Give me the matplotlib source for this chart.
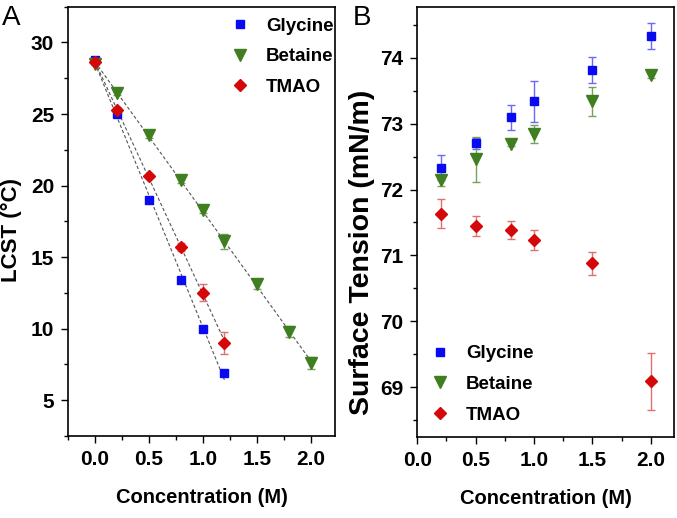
import numpy as np
import matplotlib
matplotlib.use("Agg")
import matplotlib.pyplot as plt
from matplotlib.ticker import MultipleLocator

plt.rcParams['font.family'] = ['Liberation Sans', 'DejaVu Sans']
plt.rcParams['font.weight'] = 'bold'

# Panel A: LCST vs concentration
gly_x_a = [0.0, 0.2, 0.5, 0.8, 1.0, 1.2]
gly_y_a = [28.8, 25.0, 19.0, 13.4, 10.0, 6.9]
gly_e_a = [0.1, 0.1, 0.1, 0.1, 0.1, 0.1]

bet_x_a = [0.0, 0.2, 0.5, 0.8, 1.0, 1.2, 1.5, 1.8, 2.0]
bet_y_a = [28.5, 26.5, 23.5, 20.4, 18.3, 16.1, 13.1, 9.8, 7.6]
bet_e_a = [0.1, 0.2, 0.2, 0.2, 0.2, 0.5, 0.3, 0.4, 0.4]

tma_x_a = [0.0, 0.2, 0.5, 0.8, 1.0, 1.2]
tma_y_a = [28.6, 25.3, 20.7, 15.7, 12.5, 9.0]
tma_e_a = [0.1, 0.2, 0.1, 0.3, 0.6, 0.8]

# Panel B: surface tension vs concentration
conc_b = [0.2, 0.5, 0.8, 1.0, 1.5, 2.0]
gly_y_b = [72.33, 72.70, 73.10, 73.34, 73.81, 74.33]
gly_e_b = [0.19, 0.08, 0.19, 0.31, 0.20, 0.20]
bet_y_b = [72.14, 72.46, 72.69, 72.84, 73.34, 73.74]
bet_e_b = [0.08, 0.34, 0.03, 0.14, 0.22, 0.05]
tma_y_b = [71.63, 71.45, 71.39, 71.24, 70.88, 69.09]
tma_e_b = [0.22, 0.15, 0.14, 0.15, 0.17, 0.43]

blue = '#0a0af0'
green = '#3f7f1f'
red = '#d40808'

fig = plt.figure(figsize=(6.77, 5.18), dpi=100)
axA = fig.add_axes([0.1004, 0.1583, 0.3944, 0.8288])
axB = fig.add_axes([0.6164, 0.157, 0.3792, 0.8295])

series_a = [
    (gly_x_a, gly_y_a, gly_e_a, 's', blue, '#6a6af5', 'Glycine', 6),
    (bet_x_a, bet_y_a, bet_e_a, 'v', green, '#7aa060', 'Betaine', 8),
    (tma_x_a, tma_y_a, tma_e_a, 'D', red, '#e07070', 'TMAO', 6.5),
]
for x, y, e, m, c, ec, lab, ms in series_a:
    # linear fit line
    k, b = np.polyfit(x, y, 1)
    xs = np.array([x[0], x[-1]])
    axA.plot(xs, k * xs + b, ls=(0, (3, 2)), color='#555555', lw=0.8, zorder=1)
    axA.errorbar(x, y, yerr=e, fmt='none', ecolor=ec,
                 elinewidth=1, capsize=3, capthick=1, zorder=2)
    axA.plot(x, y, m, color=c, ms=ms, mec=c, ls='none', label=lab, zorder=3)

series_b = [
    (gly_y_b, gly_e_b, 's', blue, '#6a6af5', 'Glycine', 6),
    (bet_y_b, bet_e_b, 'v', green, '#7aa060', 'Betaine', 8),
    (tma_y_b, tma_e_b, 'D', red, '#e07070', 'TMAO', 6.5),
]
for y, e, m, c, ec, lab, ms in series_b:
    axB.errorbar(conc_b, y, yerr=e, fmt='none', ecolor=ec,
                 elinewidth=1, capsize=3, capthick=1, zorder=2)
    axB.plot(conc_b, y, m, color=c, ms=ms, mec=c, ls='none', label=lab, zorder=3)

axA.set_xlim(-0.25, 2.225)
axA.set_ylim(2.5, 32.5)
axA.xaxis.set_major_locator(MultipleLocator(0.5))
axA.xaxis.set_minor_locator(MultipleLocator(0.25))
axA.yaxis.set_major_locator(MultipleLocator(5))
axA.yaxis.set_minor_locator(MultipleLocator(2.5))
axA.set_ylabel('LCST (°C)', fontsize=16, fontweight='bold')
axA.yaxis.set_label_coords(-0.172, 0.48)
axA.set_xlabel('Concentration (M)', fontsize=14.5, fontweight='bold', labelpad=14)

axB.set_xlim(0.0, 2.2)
axB.set_ylim(68.25, 74.77)
axB.xaxis.set_major_locator(MultipleLocator(0.5))
axB.xaxis.set_minor_locator(MultipleLocator(0.25))
axB.yaxis.set_major_locator(MultipleLocator(1))
axB.yaxis.set_minor_locator(MultipleLocator(0.5))
axB.set_ylabel('Surface Tension (mN/m)', fontsize=20.5, fontweight='bold')
axB.yaxis.set_label_coords(-0.165, 0.43)
axB.set_xlabel('Concentration (M)', fontsize=14.5, fontweight='bold', labelpad=14)

for ax in (axA, axB):
    ax.tick_params(which='major', direction='out', length=5, width=1,
                   labelsize=15, top=False, right=False, pad=5)
    ax.tick_params(which='minor', direction='out', length=3, width=1,
                   top=False, right=False)
    for lbl in ax.get_xticklabels() + ax.get_yticklabels():
        lbl.set_fontweight('bold')
    for s in ax.spines.values():
        s.set_linewidth(1.2)

axA.legend(loc='upper right', bbox_to_anchor=(0.995, 0.975), frameon=False,
           handletextpad=0.9, labelspacing=0.72, borderaxespad=0, borderpad=0,
           handlelength=1.0, prop={'weight': 'bold', 'size': 13.5})
axB.legend(loc='lower left', frameon=False, handletextpad=0.9,
           labelspacing=0.72, borderaxespad=0.3, handlelength=1.0,
           prop={'weight': 'bold', 'size': 13.5})

fig.text(0.003, 0.952, 'A', fontsize=20, fontweight='normal')
fig.text(0.521, 0.952, 'B', fontsize=20, fontweight='normal')

fig.savefig('out.png', dpi=100)
